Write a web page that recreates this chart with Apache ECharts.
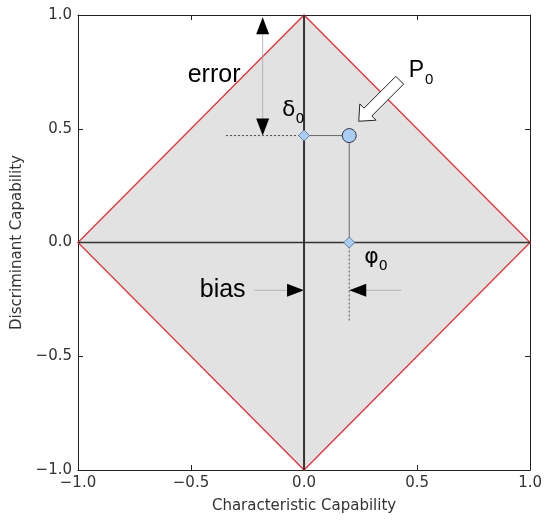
<!DOCTYPE html>
<html><head><meta charset="utf-8">
<script src="https://cdn.jsdelivr.net/npm/echarts@6/dist/echarts.min.js"></script>
<style>html,body{margin:0;background:#fff}#c{width:545px;height:520px}</style>
</head><body><div id="c"></div>
<script>
// Capability plane: envelope, origin cross, point P0 and its projections
const axisRange = [-1.0, 1.0];
const tickStep = 0.5;
const envelope = [[-1, 0], [0, 1], [1, 0], [0, -1]];
const horizontalAxisLine = [[-1, 0], [1, 0]];
const verticalAxisLine = [[0, -1], [0, 1]];
const pointP0 = [[0.2, 0.47]];
const projections = [[0, 0.47], [0.2, 0]];
const connector = [[0, 0.47], [0.2, 0.47], [0.2, 0]];
const guideDelta = [[-0.345, 0.47], [0, 0.47]];
const guidePhi = [[0.2, 0], [0.2, -0.345]];
const errorShaft = [[-0.183, 0.99], [-0.183, 0.47]];
const biasLeftShaft = [[-0.22, -0.21], [0, -0.21]];
const biasRightShaft = [[0.43, -0.21], [0.2, -0.21]];
// [x, y, direction in screen degrees]
const arrowHeads = [[-0.183, 0.99, -90], [-0.183, 0.47, 90], [0, -0.21, 0], [0.2, -0.21, 180]];
const pointerArrow = [[0.242, 0.533, 135]];
// [x, y, text, subscript]
const annotations = [
  [-0.398, 0.735, 'error', ''],
  [-0.36, -0.21, 'bias', ''],
  [-0.048, 0.57, 'δ', '0'],
  [0.318, -0.078, 'φ', '0'],
  [0.518, 0.745, 'P', '0']
];

const fmt = v => (v < 0 ? '\u2212' : '') + Math.abs(v).toFixed(1);
const tickFont = { fontFamily: 'DejaVu Sans', fontSize: 15, color: '#333' };
const nameFont = { fontFamily: 'DejaVu Sans', fontSize: 15, color: '#333' };

function lineSeries(data, style) {
  return { type: 'line', data: data, symbol: 'none', silent: true, lineStyle: style, z: 3, animation: false };
}

const chart = echarts.init(document.getElementById('c'), null, { renderer: 'canvas' });
const baseAxis = {
  type: 'value', min: axisRange[0], max: axisRange[1], interval: tickStep,
  splitLine: { show: false },
  axisLine: { show: true, onZero: false, lineStyle: { color: '#222', width: 1 } },
  axisTick: { show: true, inside: true, length: 5, lineStyle: { color: '#222' } }
};

chart.setOption({
  animation: false,
  backgroundColor: '#fff',
  grid: { left: 78, top: 15, width: 455, height: 455 },
  xAxis: [
    Object.assign({}, baseAxis, {
      position: 'bottom',
      name: 'Characteristic Capability', nameLocation: 'middle', nameGap: 29,
      nameTextStyle: nameFont,
      axisLabel: Object.assign({ formatter: fmt, margin: 6 }, tickFont)
    }),
    Object.assign({}, baseAxis, { position: 'top', axisLabel: { show: false } })
  ],
  yAxis: [
    Object.assign({}, baseAxis, {
      position: 'left',
      name: 'Discriminant Capability', nameLocation: 'middle', nameGap: 50,
      nameTextStyle: nameFont,
      axisLabel: Object.assign({ formatter: fmt, margin: 6 }, tickFont)
    }),
    Object.assign({}, baseAxis, { position: 'right', axisLabel: { show: false } })
  ],
  series: [
    {
      type: 'custom', data: envelope, z: 1, silent: true,
      renderItem: function (params, api) {
        if (params.dataIndex !== 0) return null;
        const pts = envelope.map(p => api.coord(p));
        return {
          type: 'polygon', shape: { points: pts },
          style: { fill: '#e2e2e2', stroke: '#e3343a', lineWidth: 1.3 }
        };
      }
    },
    lineSeries(horizontalAxisLine, { color: '#333', width: 1.5 }),
    lineSeries(verticalAxisLine, { color: '#333', width: 2 }),
    lineSeries(connector, { color: '#666', width: 1 }),
    lineSeries(guideDelta, { color: '#444', width: 1, type: [2, 2] }),
    lineSeries(guidePhi, { color: '#555', width: 1, type: [2, 2] }),
    lineSeries(errorShaft, { color: '#aaa', width: 0.8 }),
    lineSeries(biasLeftShaft, { color: '#aaa', width: 0.8 }),
    lineSeries(biasRightShaft, { color: '#aaa', width: 0.8 }),
    {
      type: 'custom', data: arrowHeads, z: 4, silent: true,
      renderItem: function (params, api) {
        const tip = api.coord([api.value(0), api.value(1)]);
        const a = api.value(2) * Math.PI / 180;
        const L = 17, W = 6.5;
        const dx = Math.cos(a), dy = Math.sin(a);
        const bx = tip[0] - dx * L, by = tip[1] - dy * L;
        return {
          type: 'polygon',
          shape: { points: [tip, [bx - dy * W, by + dx * W], [bx + dy * W, by - dx * W]] },
          style: { fill: '#000' }
        };
      }
    },
    {
      type: 'custom', data: pointerArrow, z: 6, silent: true,
      renderItem: function (params, api) {
        const tip = api.coord([api.value(0), api.value(1)]);
        const a = api.value(2) * Math.PI / 180;
        const total = 58, headL = 13, headW = 11.5, shaftW = 5.5;
        const local = [[0, 0], [-headL, headW], [-headL, shaftW], [-total, shaftW],
                       [-total, -shaftW], [-headL, -shaftW], [-headL, -headW]];
        const c = Math.cos(a), s = Math.sin(a);
        const pts = local.map(p => [tip[0] + p[0] * c - p[1] * s, tip[1] + p[0] * s + p[1] * c]);
        return {
          type: 'polygon', shape: { points: pts },
          style: { fill: '#fff', stroke: '#222', lineWidth: 1 }
        };
      }
    },
    {
      type: 'scatter', data: projections, symbol: 'diamond', symbolSize: 11, z: 7, silent: true,
      itemStyle: { color: '#a9cdf5', borderColor: '#4a6a90', borderWidth: 0.8, opacity: 1 }
    },
    {
      type: 'scatter', data: pointP0, symbol: 'circle', symbolSize: 14, z: 7, silent: true,
      itemStyle: { color: '#a9cdf5', borderColor: '#334', borderWidth: 1, opacity: 1 }
    },
    {
      type: 'scatter', data: annotations, symbolSize: 0, z: 8, silent: true,
      encode: { x: 0, y: 1 },
      itemStyle: { opacity: 1 },
      label: {
        show: true, position: 'inside', color: '#000', opacity: 1,
        formatter: function (p) {
          const d = p.data;
          if (!d[3]) return '{w|' + d[2] + '}';
          return d[2] === 'P' ? '{P|P}{ps|' + d[3] + '}' : '{g|' + d[2] + '}{gs|' + d[3] + '}';
        },
        rich: {
          w: { fontFamily: 'Liberation Sans', fontSize: 25, color: '#000' },
          P: { fontFamily: 'Liberation Sans', fontSize: 23, color: '#000', lineHeight: 28, verticalAlign: 'top' },
          ps: { fontFamily: 'Liberation Sans', fontSize: 15, color: '#000', lineHeight: 28, verticalAlign: 'bottom', padding: [0, 0, 0, 1] },
          g: { fontFamily: 'DejaVu Sans', fontSize: 22, color: '#000', lineHeight: 27, verticalAlign: 'top' },
          gs: { fontFamily: 'DejaVu Sans', fontSize: 14, color: '#000', lineHeight: 27, verticalAlign: 'bottom' }
        }
      }
    }
  ]
});
</script>
</body></html>
